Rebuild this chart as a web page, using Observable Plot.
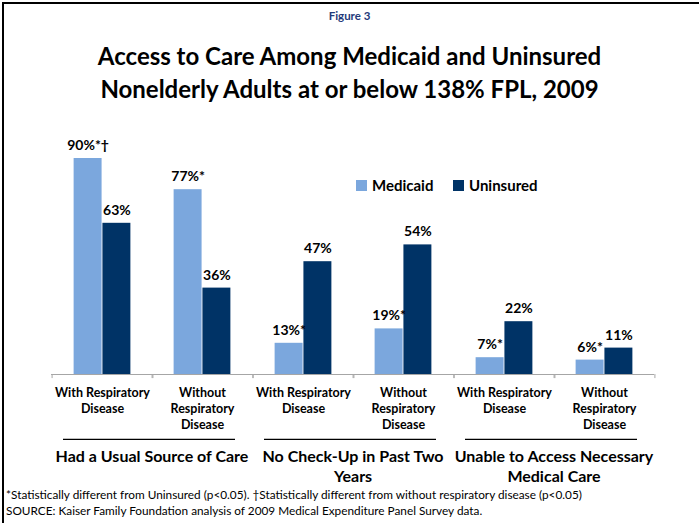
<!DOCTYPE html>
<html>
<head>
<meta charset="utf-8">
<script src="https://cdn.jsdelivr.net/npm/d3@7"></script>
<script src="https://cdn.jsdelivr.net/npm/@observablehq/plot@0.6"></script>
<style>
  html, body { margin: 0; padding: 0; background: #fff; }
  #wrap { position: relative; width: 699px; height: 523px; overflow: hidden; font-family: Lato, "Open Sans", sans-serif; color: #000; }
  #border { position: absolute; left: 2px; top: 2px; width: 720px; height: 540px; border: 2px solid #000; box-sizing: border-box; }
  #fig { position: absolute; top: 9px; left: 0; width: 699px; text-align: center; font-size: 11.5px; font-weight: bold; color: #1f3a7a; }
  #title { position: absolute; top: 39px; left: 0; width: 699px; text-align: center; font-size: 24px; font-weight: bold; line-height: 33px; }
  #chart { position: absolute; left: 0; top: 0; }
  .leg { position: absolute; top: 176px; font-size: 15px; font-weight: bold; display: flex; align-items: center; }
  .leg span.sw { display: inline-block; width: 11px; height: 11px; margin-right: 5px; }
  #foot { position: absolute; left: 6px; top: 487px; font-size: 11.8px; line-height: 15.5px; white-space: nowrap; }
</style>
</head>
<body>
<div id="wrap">
  <div id="border"></div>
  <div id="fig">Figure 3</div>
  <div id="title">Access to Care Among Medicaid and Uninsured<br>Nonelderly Adults at or below 138% FPL, 2009</div>
  <div id="chart"></div>
  <div id="legend"></div>
  <div id="foot">*Statistically different from Uninsured (p&lt;0.05). †Statistically different from without respiratory disease (p&lt;0.05)<br>SOURCE: Kaiser Family Foundation analysis of 2009 Medical Expenditure Panel Survey data.</div>
</div>
<script>
// ---- data ----
const groups = ["Had a Usual Source of Care", "No Check-Up in Past Two Years", "Unable to Access Necessary Medical Care"];
const groupLabels = ["Had a Usual Source of Care", "No Check-Up in Past Two\nYears", "Unable to Access Necessary\nMedical Care"];
const conditions = ["With Respiratory Disease", "Without Respiratory Disease"];
const conditionLabels = ["With Respiratory\nDisease", "Without\nRespiratory\nDisease"];
const series = ["Medicaid", "Uninsured"];
const medicaid = [90, 77, 13, 19, 7, 6];
const uninsured = [63, 36, 47, 54, 22, 11];
const medicaidLabels = ["90%*†", "77%*", "13%*", "19%*", "7%*", "6%*"];
const uninsuredLabels = ["63%", "36%", "47%", "54%", "22%", "11%"];
const colors = ["#7ba7dd", "#003366"];

const rows = medicaid.map((m, i) => ({
  group: groups[Math.floor(i / 2)],
  cond: conditions[i % 2],
  condLabel: conditionLabels[i % 2],
  medicaid: m,
  uninsured: uninsured[i],
  mLabel: medicaidLabels[i],
  uLabel: uninsuredLabels[i]
}));
const groupRows = groups.map((g, i) => ({group: g, label: groupLabels[i]}));

// ---- layout ----
const W = 699, H = 480, mL = 50, mR = 44, mT = 134, mB = 106;
const bw = (W - mL - mR) / 6;   // band width per condition
const barW = 28.8;

const chart = Plot.plot({
  width: W, height: H,
  marginLeft: mL, marginRight: mR, marginTop: mT, marginBottom: mB,
  style: {fontFamily: "Lato, 'Open Sans', sans-serif", background: "transparent", overflow: "visible"},
  fx: {domain: groups, padding: 0, axis: null},
  x: {domain: conditions, padding: 0, axis: null},
  y: {domain: [0, 100], axis: null},
  marks: [
    Plot.barY(rows, {fx: "group", x: "cond", y: "medicaid", fill: colors[0], insetLeft: bw / 2 - barW, insetRight: bw / 2}),
    Plot.barY(rows, {fx: "group", x: "cond", y: "uninsured", fill: colors[1], insetLeft: bw / 2, insetRight: bw / 2 - barW}),
    Plot.text(rows, {fx: "group", x: "cond", y: "medicaid", text: "mLabel", dx: -barW / 2, dy: -13, fontSize: 14, fontWeight: "bold", fill: "#000"}),
    Plot.text(rows, {fx: "group", x: "cond", y: "uninsured", text: "uLabel", dx: barW / 2, dy: -13, fontSize: 14, fontWeight: "bold", fill: "#000"}),
    Plot.ruleY([0], {stroke: "#a6a6a6", strokeWidth: 1}),
    Plot.ruleX(rows, {fx: "group", x: "cond", dx: -bw / 2, y1: 0, y2: -1.7, stroke: "#a6a6a6"}),
    Plot.ruleX(rows, {fx: "group", x: "cond", dx: bw / 2, y1: 0, y2: -1.7, stroke: "#a6a6a6"}),
    Plot.text(rows, {fx: "group", x: "cond", text: "condLabel", frameAnchor: "bottom", lineAnchor: "top", dy: 10.5, fontSize: 12.5, fontWeight: "bold", lineHeight: 1.3, fill: "#000"}),
    Plot.ruleY(groupRows, {fx: "group", y: () => -27, insetLeft: 12, insetRight: 17, stroke: "#000", strokeWidth: 1.3}),
    Plot.text(groupRows, {fx: "group", text: "label", frameAnchor: "bottom", lineAnchor: "top", dy: 72.5, fontSize: 16, fontWeight: "bold", lineHeight: 1.28, fill: "#000"})
  ]
});
document.getElementById("chart").appendChild(chart);

// legend
const legend = document.getElementById("legend");
const legX = [356, 453];
series.forEach((s, i) => {
  const d = document.createElement("div");
  d.className = "leg";
  d.style.left = legX[i] + "px";
  d.innerHTML = `<span class="sw" style="background:${colors[i]}"></span>${s}`;
  legend.appendChild(d);
});
</script>
</body>
</html>
